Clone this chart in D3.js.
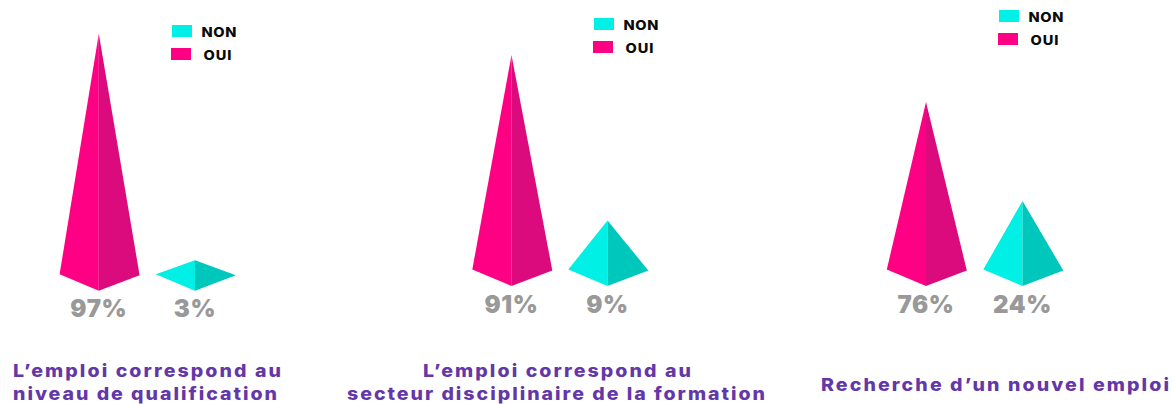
<!DOCTYPE html>
<html><head><meta charset="utf-8">
<script src="https://cdn.jsdelivr.net/npm/d3@7"></script>
<style>html,body{margin:0;padding:0;background:#fff}svg{display:block}text{font-family:Inter,"Open Sans",sans-serif}</style>
</head><body><svg id="c" width="1174" height="404"></svg>
<script>
// Data
const seriesNames = ["NON", "OUI"];
const oui = [97, 91, 76];
const non = [3, 9, 24];
const titles = [
  ["L’emploi correspond au", "niveau de qualification"],
  ["L’emploi correspond au", "secteur disciplinaire de la formation"],
  ["Recherche d’un nouvel emploi"]
];
// Layout
const colors = {OUI:["#ff0084","#db0b7e"], NON:["#00f0e6","#00c7bb"]};
const panels = [
  {ouiX:98.8, nonX:195, base:275.3, label:317, legX:172, legY:25, titleL:[13,13], titleY:[377,400], titleW:[268,264]},
  {ouiX:511.5, nonX:607.5, base:270.5, label:313, legX:594, legY:18, titleL:[423,347], titleY:[377,400], titleW:[268,418]},
  {ouiX:926, nonX:1022.5, base:270.5, label:313, legX:999, legY:10, titleL:[821], titleY:[391], titleW:[348]}
];
const glyphWiden = 1.12;
// Value to pyramid height; the reference's heights are not proportional, so the scale is piecewise
const h = d3.scaleLinear().domain([3,9,24,76,91,97]).range([15,50,69.5,168.5,215.5,241.5]);
const line = d3.line();
const svg = d3.select("#c");

function pyramid(g, cx, base, value, cols){
  const top = base - h(value);
  const left = [[cx,top],[cx-39.2,base-1],[cx,base+15.5]];
  const right = [[cx,top],[cx+40.8,base],[cx,base+15.5]];
  g.append("path").attr("d", line(left)+"Z").attr("fill", cols[0]);
  g.append("path").attr("d", line(right)+"Z").attr("fill", cols[1]);
}
// Places a text with a fixed overall width: glyphs are widened, the rest of the width goes to the gaps
function wideText(g, x, y, w, str){
  return g.append("text")
    .attr("transform", `translate(${x},${y}) scale(${glyphWiden},1)`)
    .attr("textLength", w/glyphWiden).attr("lengthAdjust","spacing").text(str);
}

panels.forEach((p,i)=>{
  const g = svg.append("g");
  pyramid(g, p.ouiX, p.base, oui[i], colors.OUI);
  pyramid(g, p.nonX, p.base, non[i], colors.NON);
  [[p.ouiX,oui[i]],[p.nonX,non[i]]].forEach(([x,v])=>{
    g.append("text").attr("x",x).attr("y",p.label).attr("text-anchor","middle")
      .attr("font-size",24).attr("font-weight",900).attr("letter-spacing",0.6).attr("fill","#999999").text(v+"%");
  });
  // legend
  seriesNames.forEach((n,k)=>{
    const dx = k===0?0:-1, y = p.legY + k*23;
    g.append("rect").attr("x",p.legX+dx).attr("y",y).attr("width",20).attr("height",12).attr("fill",colors[n][0]);
    wideText(g, p.legX+(k===0?29.5:31.5), y+11.5, k===0?35:28, n)
      .attr("font-size",13).attr("font-weight",800).attr("fill","#0a0a0a");
  });
  // title
  titles[i].forEach((t,k)=>{
    wideText(g, p.titleL[k], p.titleY[k], p.titleW[k], t)
      .attr("font-size",17.5).attr("font-weight",800).attr("fill","#6437a8");
  });
});
</script></body></html>
